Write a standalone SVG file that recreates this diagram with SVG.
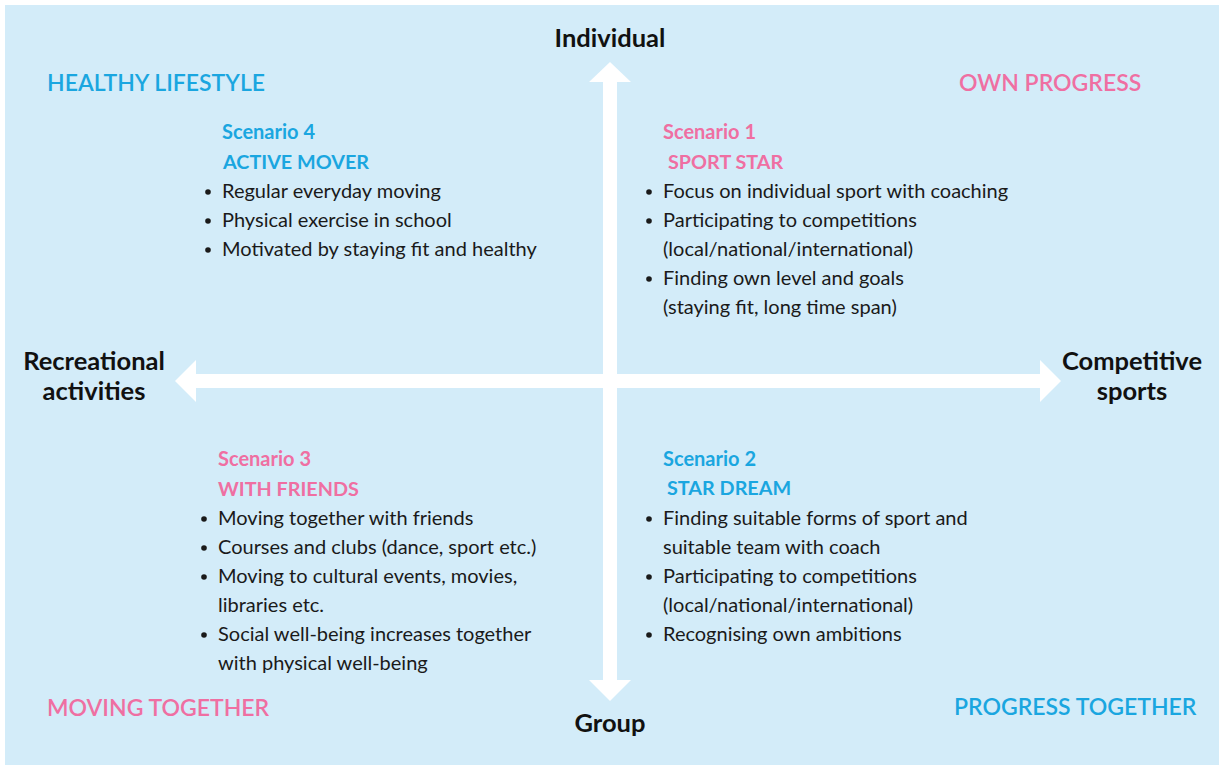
<svg xmlns="http://www.w3.org/2000/svg" width="1224" height="768" viewBox="0 0 1224 768">
<style>
text{font-family:Lato,"Open Sans","Liberation Sans",sans-serif;}
.axis{font-size:25.5px;font-weight:700;fill:#111;}
.corner{font-size:23px;font-weight:600;}
.scn{font-size:20px;font-weight:700;}
.ttl{font-size:19.8px;font-weight:700;}
.b{font-size:20px;fill:#1a1a1a;}
.blue{fill:#1aa6e0;}
.pink{fill:#ef6fa2;}
</style>
<rect x="0" y="0" width="1224" height="768" fill="#ffffff"/>
<rect x="5" y="5" width="1214" height="760" fill="#d3ecf9"/>
<g id="connectors" fill="#ffffff">
<polygon points="610,62 631,82 617,82 617,680 631,680 610,701 589,680 603,680 603,82 589,82"/>
<polygon points="175,381 196,360 196,374 1040,374 1040,360 1061,381 1040,402 1040,388 196,388 196,402"/>
</g>
<g id="axis-individual"><text class="axis" x="610" y="47" text-anchor="middle">Individual</text></g>
<g id="axis-group"><text class="axis" x="610" y="732" text-anchor="middle">Group</text></g>
<g id="axis-recreational"><text class="axis" x="94" y="370" text-anchor="middle">Recreational</text><text class="axis" x="94" y="400" text-anchor="middle">activities</text></g>
<g id="axis-competitive"><text class="axis" x="1132" y="370" text-anchor="middle">Competitive</text><text class="axis" x="1132" y="400" text-anchor="middle">sports</text></g>
<g id="corner-healthy"><text class="corner blue" x="47" y="91">HEALTHY LIFESTYLE</text></g>
<g id="corner-own"><text class="corner pink" x="959" y="91">OWN PROGRESS</text></g>
<g id="corner-moving"><text class="corner pink" x="47" y="716">MOVING TOGETHER</text></g>
<g id="corner-progress"><text class="corner blue" x="954" y="715">PROGRESS TOGETHER</text></g>
<g id="scenario4">
<text class="scn blue" x="222" y="139">Scenario 4</text>
<text class="ttl blue" x="223" y="169">ACTIVE MOVER</text>
<circle cx="208" cy="192" r="2.8" fill="#1a1a1a"/><circle cx="208" cy="221" r="2.8" fill="#1a1a1a"/><circle cx="208" cy="250" r="2.8" fill="#1a1a1a"/>
<text class="b" x="222" y="198">Regular everyday moving</text>
<text class="b" x="222" y="227">Physical exercise in school</text>
<text class="b" x="222" y="256">Motivated by staying fit and healthy</text>
</g>
<g id="scenario1">
<text class="scn pink" x="663" y="139">Scenario 1</text>
<text class="ttl pink" x="668" y="169">SPORT STAR</text>
<circle cx="649" cy="192" r="2.8" fill="#1a1a1a"/><circle cx="649" cy="221" r="2.8" fill="#1a1a1a"/><circle cx="649" cy="279" r="2.8" fill="#1a1a1a"/>
<text class="b" x="663" y="198">Focus on individual sport with coaching</text>
<text class="b" x="663" y="227">Participating to competitions</text>
<text class="b" x="663" y="256">(local/national/international)</text>
<text class="b" x="663" y="285">Finding own level and goals</text>
<text class="b" x="663" y="314">(staying fit, long time span)</text>
</g>
<g id="scenario3">
<text class="scn pink" x="218" y="466">Scenario 3</text>
<text class="ttl pink" x="218" y="496">WITH FRIENDS</text>
<circle cx="204" cy="519" r="2.8" fill="#1a1a1a"/><circle cx="204" cy="548" r="2.8" fill="#1a1a1a"/><circle cx="204" cy="577" r="2.8" fill="#1a1a1a"/><circle cx="204" cy="635" r="2.8" fill="#1a1a1a"/>
<text class="b" x="218" y="525">Moving together with friends</text>
<text class="b" x="218" y="554">Courses and clubs (dance, sport etc.)</text>
<text class="b" x="218" y="583">Moving to cultural events, movies,</text>
<text class="b" x="218" y="612">libraries etc.</text>
<text class="b" x="218" y="641">Social well-being increases together</text>
<text class="b" x="218" y="670">with physical well-being</text>
</g>
<g id="scenario2">
<text class="scn blue" x="663" y="466">Scenario 2</text>
<text class="ttl blue" x="667" y="495">STAR DREAM</text>
<circle cx="649" cy="519" r="2.8" fill="#1a1a1a"/><circle cx="649" cy="577" r="2.8" fill="#1a1a1a"/><circle cx="649" cy="635" r="2.8" fill="#1a1a1a"/>
<text class="b" x="663" y="525">Finding suitable forms of sport and</text>
<text class="b" x="663" y="554">suitable team with coach</text>
<text class="b" x="663" y="583">Participating to competitions</text>
<text class="b" x="663" y="612">(local/national/international)</text>
<text class="b" x="663" y="641">Recognising own ambitions</text>
</g>
</svg>
